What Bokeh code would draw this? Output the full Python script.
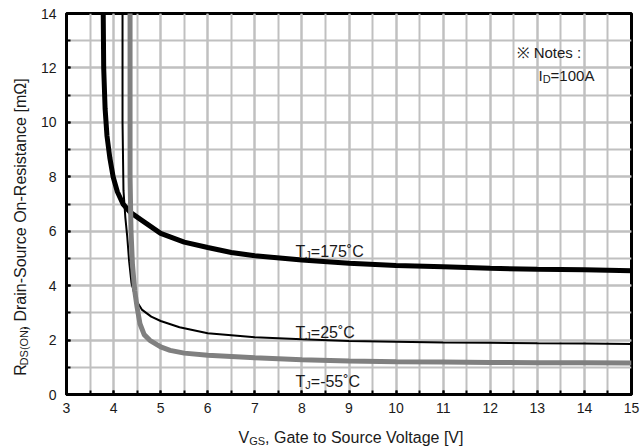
import math
from bokeh.plotting import figure
from bokeh.layouts import row, column
from bokeh.models import Label, SingleIntervalTicker
from bokeh.embed import file_html
from bokeh.resources import INLINE

# ---- data ----
vgs_175 = [3.78, 3.78, 3.79, 3.82, 3.86, 3.92, 3.99, 4.08, 4.2, 4.35, 4.6, 5.0, 5.5, 6.0, 6.5, 7.0,
           8.0, 9.0, 10.0, 11.0, 12.0, 13.0, 14.0, 15.0]
rds_175 = [14.5, 14.0, 12.0, 10.5, 9.5, 8.7, 8.0, 7.45, 7.0, 6.7, 6.4, 5.92, 5.6, 5.4, 5.22, 5.1,
           4.94, 4.82, 4.74, 4.69, 4.64, 4.6, 4.58, 4.55]

vgs_25 = [4.19, 4.19, 4.19, 4.21, 4.25, 4.29, 4.33, 4.38, 4.45, 4.5, 4.6, 4.8, 5.0, 5.4, 6.0, 7.0,
          8.0, 9.0, 10.0, 11.0, 12.0, 13.0, 14.0, 15.0]
rds_25 = [14.5, 14.0, 10.0, 7.5, 6.5, 5.8, 4.9, 4.1, 3.65, 3.4, 3.12, 2.86, 2.7, 2.47, 2.25, 2.1,
          2.03, 1.97, 1.94, 1.91, 1.9, 1.88, 1.87, 1.86]

vgs_m55 = [4.35, 4.35, 4.35, 4.37, 4.4, 4.45, 4.5, 4.56, 4.65, 4.77, 5.0, 5.2, 5.5, 6.0, 7.0,
           8.0, 9.0, 10.0, 11.0, 12.0, 13.0, 14.0, 15.0]
rds_m55 = [14.5, 14.0, 8.0, 6.0, 4.8, 3.8, 3.2, 2.6, 2.2, 1.99, 1.75, 1.62, 1.52, 1.44, 1.35,
           1.28, 1.23, 1.2, 1.19, 1.18, 1.17, 1.17, 1.16]

x_range = (3, 15)
y_range = (0, 14)

FONT = "Liberation Sans"
TXT = "#1a1a1a"

p = figure(width=609, height=426, x_range=x_range, y_range=y_range,
           output_backend="svg", toolbar_location=None,
           min_border_left=34, min_border_right=10, min_border_top=13, min_border_bottom=32)
p.background_fill_color = "white"
p.border_fill_color = "white"
p.outline_line_color = "black"
p.outline_line_width = 3

p.xaxis.ticker = SingleIntervalTicker(interval=1, num_minor_ticks=2)
p.yaxis.ticker = SingleIntervalTicker(interval=2, num_minor_ticks=2)

for ax in (p.xaxis, p.yaxis):
    ax.axis_line_color = "black"
    ax.axis_line_width = 3
    ax.major_tick_in = 4
    ax.major_tick_out = 0
    ax.minor_tick_in = 4
    ax.minor_tick_out = 0
    ax.major_tick_line_width = 2
    ax.minor_tick_line_width = 2
    ax.major_tick_line_color = "black"
    ax.minor_tick_line_color = "black"
    ax.major_label_text_font = FONT
    ax.major_label_text_font_size = "14px"
    ax.major_label_text_color = TXT
p.xaxis.major_label_standoff = 8
p.yaxis.major_label_standoff = 10

for g in (p.xgrid, p.ygrid):
    g.grid_line_color = "#c0c0c0"
    g.grid_line_width = 2
    g.minor_grid_line_color = "#c0c0c0"
    g.minor_grid_line_width = 2

p.line(vgs_175, rds_175, line_color="black", line_width=5)
p.line(vgs_25, rds_25, line_color="black", line_width=2)
p.line(vgs_m55, rds_m55, line_color="#808080", line_width=5)


def lab(fig, x, y, text, size, angle=0.0, units="screen"):
    fig.add_layout(Label(x=x, y=y, x_units=units, y_units=units, text=text,
                         text_font=FONT, text_font_size=size, text_color=TXT,
                         text_align="left", text_baseline="alphabetic", angle=angle))


# in-plot curve labels (screen units relative to frame bottom-left)
for yb, rest in ((143.3, "=175˚C"), (62.3, "=25˚C"), (13.0, "=-55˚C")):
    lab(p, 229, yb, "T", "16px")
    lab(p, 229 + 9.8, yb - 3.5, "J", "11px")
    lab(p, 229 + 9.8 + 5.5, yb, rest, "16px")

# notes
lab(p, 450, 341.7, "※ Notes :", "15px")
lab(p, 472, 319, "I", "15px")
lab(p, 476.2, 315.5, "D", "11px")
lab(p, 476.2 + 7.9, 319, "=100A", "15px")


def blank(w, h):
    f = figure(width=w, height=h, x_range=(0, w), y_range=(0, h),
               x_axis_type=None, y_axis_type=None, output_backend="svg",
               toolbar_location=None, min_border=0)
    f.outline_line_color = None
    f.grid.visible = False
    f.background_fill_color = "white"
    f.border_fill_color = "white"
    return f


# y axis label panel (rotated text, reads bottom-to-top)
ylab = blank(32, 426)
A = math.pi / 2
y0 = 21
lab(ylab, 20, y0, "R", "16px", A, "data")
lab(ylab, 23.5, y0 + 11.55, "DS(ON)", "11px", A, "data")
lab(ylab, 20, y0 + 11.55 + 39.1, ", Drain-Source On-Resistance [mΩ]", "16px", A, "data")

# x axis label panel
xlab = blank(641, 22)
lab(xlab, 238, 11, "V", "16px", 0.0, "data")
lab(xlab, 238 + 10.7, 7.5, "GS", "11px", 0.0, "data")
lab(xlab, 238 + 10.7 + 15.9, 11, ", Gate to Source Voltage [V]", "16px", 0.0, "data")

layout = column(row(ylab, p, spacing=0), xlab, spacing=0)

open("out.html", "w").write(file_html(layout, INLINE))
